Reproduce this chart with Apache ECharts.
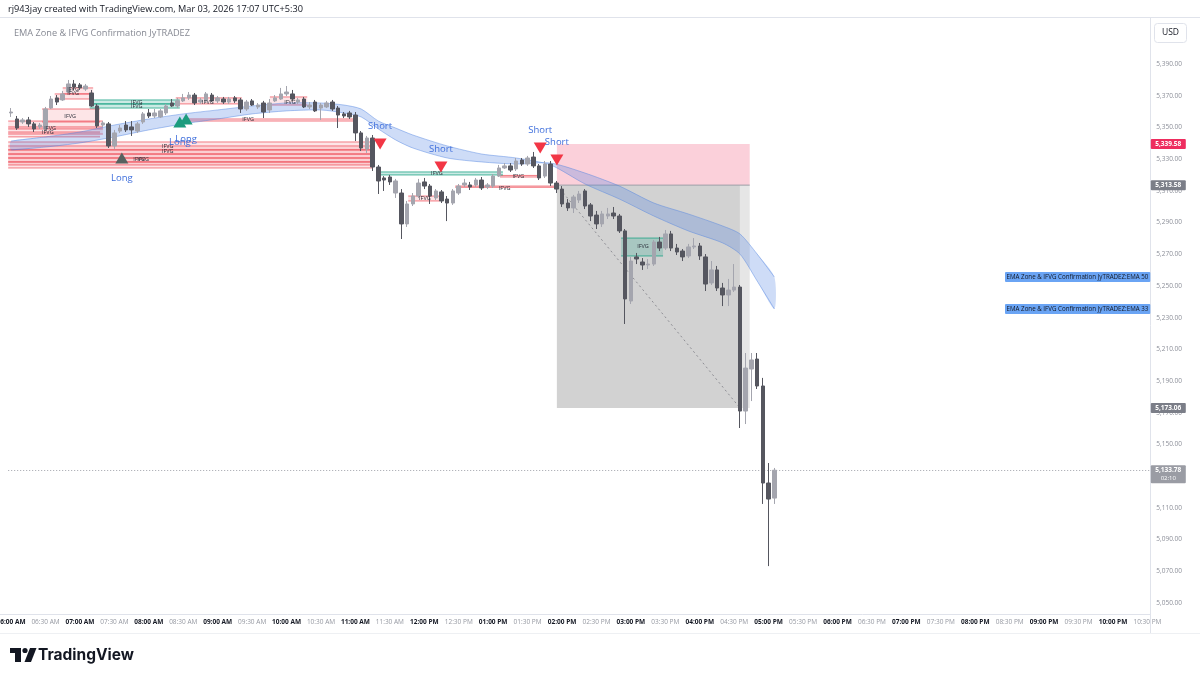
<!DOCTYPE html>
<html>
<head>
<meta charset="utf-8">
<style>html,body{margin:0;padding:0;background:#fff;}#chart{width:1200px;height:679px;}</style>
<script src="https://cdn.jsdelivr.net/npm/echarts/dist/echarts.min.js"></script>
</head>
<body>
<div id="chart"></div>
<script>
// ---------------- DATA (5-minute candles from 06:00 AM) ----------------
const opens = [5359.1,5355.3,5353.4,5354.7,5352.2,5350.3,5349.0,5362.2,5368.6,5367.3,
5372.3,5377.4,5376.8,5374.2,5371.7,5363.5,5351.5,5352.2,5338.3,5347.7,
5351.5,5350.3,5347.7,5353.4,5359.1,5357.2,5356.6,5359.1,5365.4,5363.5,
5366.7,5368.6,5370.4,5366.0,5366.7,5370.4,5366.7,5367.9,5366.0,5368.6,
5367.3,5361.6,5366.7,5362.9,5365.4,5361.0,5366.7,5367.9,5371.1,5371.1,
5366.0,5367.9,5362.9,5366.0,5362.2,5362.9,5366.0,5362.2,5358.5,5359.1,
5357.8,5346.5,5336.4,5343.3,5325.0,5318.1,5318.7,5308.6,5308.6,5289.1,
5301.7,5306.7,5315.6,5313.0,5305.5,5309.3,5304.8,5302.3,5308.6,5313.7,
5313.7,5313.7,5316.8,5312.4,5313.0,5319.3,5324.4,5325.7,5323.8,5329.4,
5326.9,5331.3,5325.7,5319.3,5326.9,5314.9,5311.1,5302.3,5299.2,5304.2,
5309.9,5301.1,5294.7,5289.1,5294.1,5296.0,5294.1,5284.7,5240.5,5268.3,
5265.1,5263.2,5263.8,5277.7,5273.9,5282.8,5273.9,5272.0,5268.9,5274.6,
5275.2,5268.3,5251.9,5260.1,5248.7,5244.3,5247.4,5249.3,5171.1,5197.6,
5203.9,5186.9,5125.7,5116.2];
const closes = [5359.7,5349.6,5354.7,5352.2,5349.0,5351.5,5361.6,5367.9,5366.0,5371.1,
5377.4,5375.5,5374.9,5376.1,5363.5,5350.9,5352.8,5338.3,5346.5,5349.6,
5348.4,5348.4,5352.2,5358.5,5357.2,5359.1,5360.4,5363.5,5363.5,5366.7,
5368.6,5370.4,5365.4,5367.3,5371.1,5366.7,5368.6,5366.0,5367.9,5366.7,
5361.6,5366.0,5364.1,5364.1,5359.7,5365.4,5368.6,5371.1,5372.3,5367.9,
5367.3,5362.9,5364.1,5360.4,5364.1,5365.4,5361.6,5357.8,5357.2,5356.6,
5346.5,5337.0,5343.3,5325.0,5316.2,5316.8,5315.6,5316.2,5289.1,5301.7,
5306.7,5314.9,5313.0,5306.7,5309.9,5303.6,5302.3,5309.9,5313.0,5314.9,
5312.4,5316.8,5311.8,5313.7,5319.3,5324.4,5325.7,5323.1,5328.8,5326.9,
5330.7,5325.7,5318.1,5326.9,5314.9,5311.1,5301.7,5299.2,5306.1,5308.0,
5300.4,5294.1,5289.1,5295.4,5295.4,5294.1,5284.7,5241.8,5265.7,5267.0,
5263.2,5263.8,5277.7,5273.9,5282.8,5273.9,5271.4,5268.3,5274.6,5275.2,
5268.9,5251.2,5260.1,5248.7,5244.3,5247.4,5249.3,5171.1,5198.2,5203.3,
5186.9,5125.7,5115.6,5133.78];
const lows = [5356.6,5348.4,5352.2,5350.3,5347.1,5349.0,5347.7,5361.6,5364.1,5366.7,
5371.7,5373.6,5373.6,5373.0,5362.9,5349.6,5350.3,5337.0,5336.4,5346.5,
5347.1,5344.6,5346.5,5352.2,5355.9,5355.9,5355.9,5357.8,5362.9,5362.2,
5366.0,5367.3,5364.1,5364.8,5366.0,5366.0,5365.4,5364.8,5364.8,5365.4,
5359.1,5360.4,5363.5,5361.6,5355.9,5359.1,5366.0,5367.3,5369.8,5366.7,
5364.8,5362.2,5361.6,5359.7,5354.7,5362.2,5360.4,5349.6,5355.9,5355.3,
5341.4,5335.1,5333.9,5322.5,5308.0,5309.9,5313.7,5305.5,5279.6,5287.2,
5300.4,5305.5,5311.1,5301.7,5304.2,5302.3,5290.9,5301.1,5307.4,5312.4,
5310.5,5312.4,5310.5,5311.1,5311.8,5318.7,5323.8,5321.9,5322.5,5325.7,
5325.7,5324.4,5316.8,5318.1,5313.0,5308.6,5299.8,5297.3,5296.0,5302.3,
5298.5,5290.9,5285.9,5287.2,5292.2,5292.2,5283.4,5226.0,5238.6,5263.8,
5260.1,5260.7,5262.6,5272.0,5272.7,5272.0,5269.5,5265.7,5267.6,5273.3,
5266.4,5246.8,5250.6,5246.8,5237.3,5237.3,5246.2,5160.4,5162.9,5177.4,
5185.0,5112.5,5073.3,5112.5];
const highs = [5362.2,5357.2,5355.9,5356.6,5353.4,5352.8,5362.9,5369.8,5370.4,5373.0,
5379.9,5379.9,5378.0,5377.4,5373.6,5364.8,5354.0,5353.4,5348.4,5351.5,
5354.0,5354.0,5353.4,5359.7,5361.6,5361.6,5361.6,5364.8,5367.9,5368.6,
5371.1,5372.3,5371.7,5368.6,5372.3,5371.7,5369.8,5369.2,5369.2,5369.8,
5368.6,5367.3,5367.9,5365.4,5366.7,5367.9,5370.4,5374.9,5376.1,5373.6,
5368.6,5369.2,5366.0,5367.3,5365.4,5366.7,5367.3,5363.5,5359.7,5360.4,
5359.7,5347.7,5344.6,5345.2,5326.3,5319.3,5320.0,5317.5,5311.1,5303.6,
5308.6,5317.5,5318.1,5314.3,5311.1,5310.5,5306.7,5311.1,5314.3,5317.5,
5315.6,5318.1,5318.7,5314.9,5320.6,5326.3,5327.5,5327.5,5330.7,5330.7,
5332.0,5334.5,5326.9,5328.8,5328.8,5316.2,5313.0,5304.8,5307.4,5309.9,
5311.1,5302.3,5297.3,5297.3,5299.2,5299.8,5295.4,5285.9,5268.3,5270.8,
5267.6,5267.0,5279.0,5280.9,5285.3,5284.7,5276.5,5273.3,5276.5,5280.2,
5277.1,5270.1,5265.7,5262.6,5251.9,5254.4,5263.8,5250.6,5207.7,5207.7,
5207.7,5192.0,5138.3,5135.2];

// EMA zone (read at selected bars)
const emaK  = [0,6,12,18,24,30,36,42,48,54,58,61,64,67,70,76,82,88,94,100,106,112,118,124,127,130,133];
const ema33 = [5341.4,5344.0,5347.1,5351.5,5355.3,5358.5,5361.0,5363.5,5365.4,5365.4,5364.1,5361.6,5354.0,5349.6,5345.2,5338.3,5333.2,5330.7,5326.3,5314.3,5304.8,5294.1,5284.7,5277.1,5270.1,5253.1,5235.5];
const ema50 = [5335.8,5337.6,5340.2,5344.0,5348.4,5352.2,5355.3,5358.5,5360.4,5361.0,5359.1,5356.6,5349.0,5342.1,5337.0,5330.7,5328.2,5326.9,5327.5,5321.2,5313.0,5302.3,5295.4,5287.8,5282.8,5270.1,5255.6];

// IFVG zones (bar index from/to, top/bottom price)
const zoneKind   = ['bear','bear','bear','bear','bear','bear','bear','bear','bear','bear','bear','bear','bear','bear','bear','bear','bear','bear','bull','bull','bull','bull'];
const zoneFrom   = [-0.5,-0.5,-0.5,-0.5,-0.5,-0.5,5.4,-0.5,-0.5,-0.5,9.0,7.6,28.7,45.1,30.3,69.2,85.2,77.4,13.7,13.7,64.0,106.3];
const zoneTo     = [62.9,62.9,62.9,62.9,62.9,62.9,15.5,16.0,16.0,15.5,14.3,14.3,40.2,51.6,59.9,74.7,92.2,95.1,29.4,29.4,85.7,113.6];
const zoneTop    = [5340.8,5338.3,5335.8,5333.2,5330.7,5328.2,5361.6,5354.0,5350.3,5347.1,5374.9,5371.1,5368.6,5369.2,5355.3,5306.7,5319.7,5313.0,5367.3,5364.8,5321.9,5280.2];
const zoneBottom = [5335.8,5333.2,5330.7,5328.2,5326.3,5324.4,5353.4,5349.0,5345.8,5344.0,5371.1,5367.9,5364.8,5364.1,5354.0,5303.6,5318.7,5312.2,5364.8,5362.2,5320.0,5268.9];

// "IFVG" text labels
const lblK     = [10.3,6.8,6.4,10.8,10.8,21.9,21.9,34.3,48.6,41.3,22.3,23.0,27.3,27.3,74.2,72.1,88.4,86.0,110.1];
const lblPrice = [5357.2,5349.6,5346.5,5374.2,5371.1,5366.0,5362.9,5366.0,5366.0,5354.7,5330.1,5330.1,5338.3,5335.1,5321.2,5305.5,5319.3,5311.8,5275.2];

// Signals
const sigK     = [19.3,29.4,30.5,64.3,74.9,92.2,95.1];
const sigPrice = [5330.7,5353.4,5355.3,5339.5,5325.0,5337.0,5329.4];
const sigType  = ['longGray','long','long','short','short','short','short'];
const sigText  = ['Long','Long','Long','Short','Short','Short','Short'];

// Short position tool
const posFrom = 95.1, posHit = 127.0, posTo = 128.7;
const posEntry = 5313.58, posStop = 5339.58, posTarget = 5173.06;
const lastPrice = 5133.78, countdown = '02:10';

// Axis
const slotCount = 199;
const timeLabels = [];
for (let k = 0; k < slotCount; k++) {
  const m = 360 + 5 * k; const h = Math.floor(m / 60), mm = m % 60;
  let h12 = h % 12; if (h12 === 0) h12 = 12;
  timeLabels.push(String(h12).padStart(2,'0') + ':' + String(mm).padStart(2,'0') + ' ' + (h >= 12 ? 'PM' : 'AM'));
}
const yMin = 5040, yMax = 5420, yStep = 10;

// ---------------- CHART ----------------
const FONT = '"Open Sans", "Noto Sans", sans-serif';
const UP = '#a4a5ae', DOWN = '#55565f';
function fmtPrice(v){ const s = v.toFixed(2).split('.'); return s[0].replace(/\B(?=(\d{3})+(?!\d))/g, ',') + '.' + s[1]; }

const candles = opens.map((o,i)=>[o, closes[i], lows[i], highs[i]]);

const chart = echarts.init(document.getElementById('chart'), null, {renderer:'canvas', width:1200, height:679});

const option = {
  animation: false,
  backgroundColor: '#ffffff',
  grid: {left: 8.2, top: 16.4, width: 1142.1, height: 602.5, outerBoundsMode: 'none', containLabel: false},
  xAxis: [
    {type:'category', data: timeLabels, boundaryGap: true,
     axisLine:{show:false}, axisTick:{show:false}, splitLine:{show:false},
     axisLabel:{interval:(i)=> i % 6 === 0, margin: 0, hideOverlap:false,
       formatter:(v,i)=> (i % 12 === 0 ? '{h|' : '{m|') + v + '}',
       rich:{h:{fontSize:6.5, fontWeight:'bold', color:'#131722', fontFamily:FONT},
             m:{fontSize:6.5, color:'#9598a1', fontFamily:FONT}}}},
    {type:'value', min:-0.5, max:slotCount-0.5, show:false}
  ],
  yAxis: [{type:'value', position:'right', min:yMin, max:yMax, interval:yStep,
    axisLine:{show:false}, axisTick:{show:false}, splitLine:{show:false},
    axisLabel:{margin:6, color:'#8c8f99', fontSize:6.5, fontFamily:FONT,
      formatter:(v)=> (Math.round(v) % 20 !== 10 || v > 5400) ? '' : fmtPrice(v)}}],
  series: [
    // position tool
    {type:'custom', xAxisIndex:1, yAxisIndex:0, z:1, clip:true, data:[0],
     renderItem:(p, api)=>{
       const a = api.coord([posFrom, posStop]), b = api.coord([posTo, posEntry]);
       const c = api.coord([posHit, posTarget]), d = api.coord([posTo, posTarget]);
       return {type:'group', children:[
         {type:'rect', shape:{x:a[0], y:a[1], width:b[0]-a[0], height:b[1]-a[1]}, style:{fill:'rgba(242,80,120,0.27)'}},
         {type:'rect', shape:{x:a[0], y:b[1], width:c[0]-a[0], height:c[1]-b[1]}, style:{fill:'#d2d2d2'}},
         {type:'rect', shape:{x:c[0], y:b[1], width:d[0]-c[0], height:d[1]-b[1]}, style:{fill:'#e6e6e6'}},
         {type:'line', shape:{x1:a[0], y1:b[1], x2:b[0], y2:b[1]}, style:{stroke:'#9a9ca3', lineWidth:1}}
       ]};
     }},
    // dashed trade path
    {type:'custom', xAxisIndex:1, yAxisIndex:0, z:4, clip:true, data:[0],
     renderItem:(p, api)=>{
       const a = api.coord([posFrom, posEntry]), c = api.coord([posHit, posTarget]);
       return {type:'line', shape:{x1:a[0], y1:a[1], x2:c[0], y2:c[1]}, style:{stroke:'#8e8e94', lineWidth:1, lineDash:[2,3]}};
     }},
    // IFVG zones
    {type:'custom', xAxisIndex:1, yAxisIndex:0, z:2, clip:true,
     data: zoneFrom.map((f,i)=>[f, zoneTo[i], zoneTop[i], zoneBottom[i], zoneKind[i]==='bull'?1:0]),
     renderItem:(p, api)=>{
       const p1 = api.coord([api.value(0), api.value(2)]), p2 = api.coord([api.value(1), api.value(3)]);
       const bull = api.value(4) === 1;
       const fill = bull ? 'rgba(20,160,130,0.22)' : 'rgba(242,54,69,0.13)';
       const stroke = bull ? 'rgba(20,160,130,0.75)' : 'rgba(236,60,72,0.65)';
       return {type:'group', children:[
         {type:'rect', shape:{x:p1[0], y:p1[1], width:p2[0]-p1[0], height:p2[1]-p1[1]}, style:{fill}},
         {type:'line', shape:{x1:p1[0], y1:p1[1], x2:p2[0], y2:p1[1]}, style:{stroke, lineWidth:1}},
         {type:'line', shape:{x1:p1[0], y1:p2[1], x2:p2[0], y2:p2[1]}, style:{stroke, lineWidth:1}}
       ]};
     }},
    // EMA band
    {type:'custom', xAxisIndex:1, yAxisIndex:0, z:3, clip:true, data:[0],
     renderItem:(p, api)=>{
       const up = emaK.map((k,i)=>api.coord([k, ema33[i]]));
       const lo = emaK.map((k,i)=>api.coord([k, ema50[i]]));
       return {type:'group', children:[
         {type:'polygon', shape:{points: up.concat(lo.slice().reverse()), smooth:0.25}, style:{fill:'rgba(80,130,225,0.28)'}},
         {type:'polyline', shape:{points: up, smooth:0.25}, style:{stroke:'rgba(80,130,225,0.45)', lineWidth:1, fill:null}},
         {type:'polyline', shape:{points: lo, smooth:0.25}, style:{stroke:'rgba(80,130,225,0.45)', lineWidth:1, fill:null}}
       ]};
     }},
    // candles
    {type:'candlestick', xAxisIndex:0, yAxisIndex:0, z:5, barWidth:4, data:candles,
     itemStyle:{color:UP, color0:DOWN, borderColor:UP, borderColor0:DOWN, borderWidth:1},
     markLine:{silent:true, symbol:['none','none'], label:{show:false},
       lineStyle:{color:'#a0a3ab', type:[1,2], width:1}, data:[{yAxis:lastPrice}]}},
    // IFVG labels
    {type:'custom', xAxisIndex:1, yAxisIndex:0, z:6, clip:true,
     data: lblK.map((k,i)=>[k, lblPrice[i]]),
     renderItem:(p, api)=>{
       const c = api.coord([api.value(0), api.value(1)]);
       return {type:'text', x:c[0], y:c[1], style:{text:'IFVG', fill:'#2a2e39', fontSize:5.5, fontFamily:FONT, align:'center', verticalAlign:'middle'}};
     }},
    // signals
    {type:'custom', xAxisIndex:1, yAxisIndex:0, z:7, clip:false,
     data: sigK.map((k,i)=>[k, sigPrice[i], i]),
     renderItem:(p, api)=>{
       const c = api.coord([api.value(0), api.value(1)]); const i = api.value(2);
       const t = sigType[i]; const cx = c[0], cy = c[1];
       const short = t === 'short';
       const pts = short ? [[cx-6.5,cy-5.5],[cx+6.5,cy-5.5],[cx,cy+5.5]] : [[cx-6.5,cy+5.5],[cx+6.5,cy+5.5],[cx,cy-5.5]];
       const col = short ? '#f23645' : (t === 'long' ? '#1c9c7e' : '#58615f');
       return {type:'group', children:[
         {type:'polygon', shape:{points:pts}, style:{fill:col}},
         {type:'text', x:cx, y: short ? cy-18 : cy+20, style:{text:sigText[i], fill:'#3f6fdc', fontSize:9.5, fontFamily:FONT, align:'center', verticalAlign:'middle'}}
       ]};
     }},
    // price-axis badges and EMA labels
    {type:'custom', xAxisIndex:1, yAxisIndex:0, z:8, clip:false, data:[0],
     renderItem:(p, api)=>{
       const cs = p.coordSys; const xr = cs.x + cs.width;
       const els = [];
       function badge(price, fill, text2){
         const y = api.coord([0, price])[1];
         const h = text2 ? 18 : 10;
         els.push({type:'rect', shape:{x:xr+0.5, y:y-5, width:35, height:h, r:1}, style:{fill}});
         els.push({type:'text', x:xr+18, y:y, style:{text:fmtPrice(price), fill:'#ffffff', fontSize:6.5, fontWeight:'bold', fontFamily:FONT, align:'center', verticalAlign:'middle'}});
         if (text2) els.push({type:'text', x:xr+18, y:y+8, style:{text:text2, fill:'#ffffff', fontSize:6, fontFamily:FONT, align:'center', verticalAlign:'middle'}});
       }
       badge(posStop, '#ee2d5f');
       badge(posEntry, '#7b7e88');
       badge(posTarget, '#7b7e88');
       badge(lastPrice, '#9a9ca4', countdown);
       const emaLab = [[ema50[ema50.length-1], 'EMA Zone & IFVG Confirmation JyTRADEZ:EMA 50'], [ema33[ema33.length-1], 'EMA Zone & IFVG Confirmation JyTRADEZ:EMA 33']];
       emaLab.forEach(([v, t])=>{
         const y = api.coord([0, v])[1];
         els.push({type:'rect', shape:{x:1005, y:y-5, width:xr-1005, height:10, r:1}, style:{fill:'#6aa4f4'}});
         els.push({type:'text', x:xr-2, y:y, style:{text:t, fill:'#131722', fontSize:6.2, fontFamily:FONT, align:'right', verticalAlign:'middle'}});
       });
       return {type:'group', children:els};
     }}
  ],
  graphic: [
    {type:'text', x:8, y:9, style:{text:'rj943jay created with TradingView.com, Mar 03, 2026 17:07 UTC+5:30', fill:'#131722', fontSize:9.2, fontFamily:FONT, verticalAlign:'middle'}},
    {type:'line', shape:{x1:0, y1:17.5, x2:1200, y2:17.5}, style:{stroke:'#e0e3eb', lineWidth:1}},
    {type:'line', shape:{x1:1150.5, y1:17, x2:1150.5, y2:634}, style:{stroke:'#e0e3eb', lineWidth:1}},
    {type:'line', shape:{x1:0, y1:614.5, x2:1150, y2:614.5}, style:{stroke:'#e0e3eb', lineWidth:1}},
    {type:'line', shape:{x1:0, y1:633.5, x2:1200, y2:633.5}, style:{stroke:'#eef0f3', lineWidth:1}},
    {type:'text', x:14, y:33, style:{text:'EMA Zone & IFVG Confirmation JyTRADEZ', fill:'#868993', fontSize:9.2, fontFamily:FONT, verticalAlign:'middle'}},
    {type:'rect', z:100, shape:{x:1154.5, y:23.5, width:32, height:19, r:3}, style:{fill:'#ffffff', stroke:'#e0e3eb', lineWidth:1}},
    {type:'text', z:101, x:1170.5, y:33, style:{text:'USD', fill:'#131722', fontSize:8.5, fontFamily:FONT, align:'center', verticalAlign:'middle'}},
    // TradingView logo
    {type:'rect', shape:{x:10, y:648, width:11, height:5}, style:{fill:'#131722'}},
    {type:'rect', shape:{x:15, y:648, width:6, height:14}, style:{fill:'#131722'}},
    {type:'circle', shape:{cx:25, cy:650.5, r:2.6}, style:{fill:'#131722'}},
    {type:'polygon', shape:{points:[[30,648],[36.5,648],[31,662],[24.5,662]]}, style:{fill:'#131722'}},
    {type:'text', x:38, y:655.5, style:{text:'TradingView', fill:'#131722', fontSize:15.5, fontWeight:'bold', fontFamily:'Inter, "Open Sans", sans-serif', verticalAlign:'middle'}}
  ]
};
chart.setOption(option);
</script>
</body>
</html>
